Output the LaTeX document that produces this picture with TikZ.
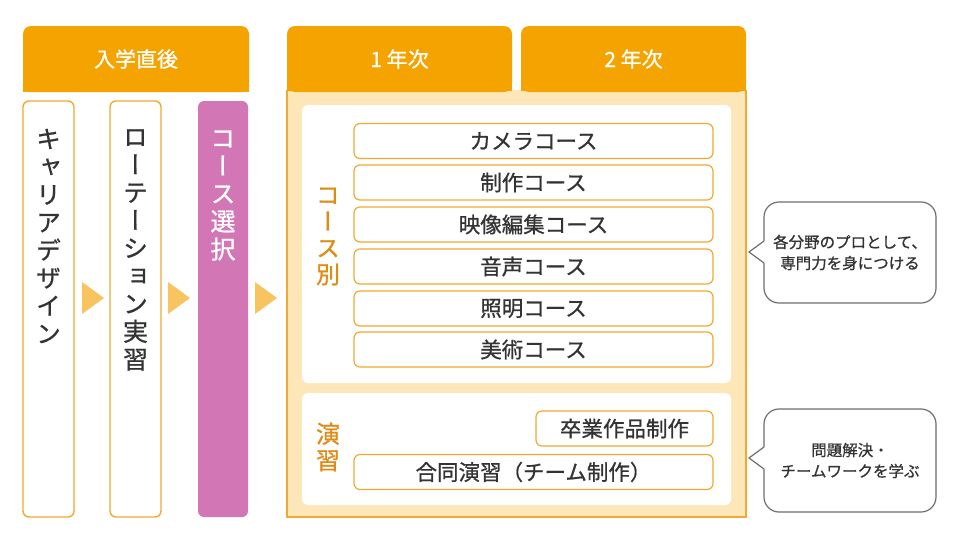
\documentclass[tikz,border=0pt]{standalone}
\usepackage{fontspec}
\setmainfont[FakeBold=0.8]{Noto Sans CJK JP}
\newfontfamily\vjp[RawFeature=+vert,FakeBold=0.8]{Noto Sans CJK JP}
\definecolor{hdrc}{RGB}{245,163,0}
\definecolor{colb}{RGB}{240,170,50}
\definecolor{pinkc}{RGB}{210,118,182}
\definecolor{tric}{RGB}{248,196,96}
\definecolor{lightc}{RGB}{253,231,185}
\definecolor{labc}{RGB}{222,140,22}
\definecolor{txt}{RGB}{51,51,51}
\definecolor{notec}{RGB}{110,110,110}
\begin{document}
\begin{tikzpicture}[x=1pt,y=-1pt,
  hdr/.style={fill=hdrc, text=white, font=\fontsize{21}{25}\selectfont, rounded corners=8pt, inner sep=0, minimum height=66pt},
  col/.style={draw=colb, line width=1.4pt, fill=white, rounded corners=6pt, minimum width=51pt, minimum height=416pt, inner sep=0},
  vtext/.style={font=\vjp\fontsize{25}{27.8}\selectfont, align=center, inner sep=0, text=txt},
  tri/.style={fill=tric},
  course/.style={draw=colb, line width=1.2pt, fill=white, rounded corners=6pt, minimum height=35pt, inner sep=0, text=txt, font=\fontsize{21.5}{26}\selectfont},
  panel/.style={fill=white, rounded corners=6pt, inner sep=0},
  lab/.style={font=\vjp\fontsize{24}{26.5}\selectfont, text=labc, align=center, inner sep=0},
  note/.style={draw=notec, line width=1.2pt, fill=white, rounded corners=15pt, minimum width=172pt, inner sep=0, text=txt, font=\fontsize{15.5}{21}\selectfont, align=center}
]
\useasboundingbox (0,0) rectangle (960,544);
\fill[white] (0,0) rectangle (960,544);

% left header
\fill[hdrc] (23,60) rectangle (249,92);
\node[hdr, minimum width=226pt] (h0) at (136,59) {\raisebox{-2pt}{入学直後}};

% columns
\node[col] (c1) at (48.5,309) {};
\node[col] (c2) at (135.5,309) {};
\node[fill=pinkc, rounded corners=6pt, minimum width=50pt, minimum height=416pt, inner sep=0] (c3) at (223,309) {};

\node[vtext] (v1) at (48.5,236) {キ\\ャ\\リ\\ア\\デ\\ザ\\イ\\ン};
\node[vtext] (v2) at (135.5,250) {ロ\\ー\\テ\\ー\\シ\\ョ\\ン\\実\\習};
\node[vtext, text=white] (v3) at (223,195.5) {コ\\ー\\ス\\選\\択};

% arrows
\fill[tri] (82,282) -- (104,298) -- (82,314) -- cycle;
\fill[tri] (168,282) -- (190,298) -- (168,314) -- cycle;
\fill[tri] (255,282) -- (277,298) -- (255,314) -- cycle;

% right area
\node[fill=lightc, minimum width=459pt, minimum height=427pt, inner sep=0] (area) at (516.5,303.5) {};
\draw[colb, line width=1.6pt] (area.north west) -- (area.south west) -- (area.south east) -- (area.north east);
\fill[hdrc] (287,60) rectangle (512,91);
\fill[hdrc] (521,60) rectangle (746,91);
\node[hdr, minimum width=225pt] (h1) at (399.5,59) {\raisebox{-2pt}{1 年次}};
\node[hdr, minimum width=225pt] (h2) at (633.5,59) {\raisebox{-2pt}{2 年次}};

\node[panel, minimum width=429pt, minimum height=278pt] (p1) at (516.5,244) {};
\node[panel, minimum width=429pt, minimum height=112pt] (p2) at (516.5,449) {};

\node[lab] (l1) at (328,236.5) {コ\\ー\\ス\\別};
\node[lab] (l2) at (328,447) {演\\習};

\node[course, minimum width=359pt] (k1) at (533.5,141) {カメラコース};
\node[course, minimum width=359pt] (k2) at (533.5,182.5) {制作コース};
\node[course, minimum width=359pt] (k3) at (533.5,224.5) {映像編集コース};
\node[course, minimum width=359pt] (k4) at (533.5,266.5) {音声コース};
\node[course, minimum width=359pt] (k5) at (533.5,308.5) {照明コース};
\node[course, minimum width=359pt] (k6) at (533.5,349.5) {美術コース};

\node[course, minimum width=177pt] (e1) at (624.5,428.5) {卒業作品制作};
\node[course, minimum width=359pt] (e2) at (533.5,472) {合同演習（チーム制作）};

% callouts
\node[note, minimum height=101pt] (n1) at (850,252.5) {各分野のプロとして、\\専門力を身につける};
\node[note, minimum height=103pt] (n2) at (850,460.5) {問題解決・\\チームワークを学ぶ};
\fill[white] (765.2,240.5) -- (749,252) -- (765.2,263.5) -- cycle;
\draw[notec, line width=1.2pt] (764,241) -- (749,252) -- (764,263);
\fill[white] (765.2,446.5) -- (749,458) -- (765.2,469.5) -- cycle;
\draw[notec, line width=1.2pt] (764,447) -- (749,458) -- (764,469);
\end{tikzpicture}
\end{document}
